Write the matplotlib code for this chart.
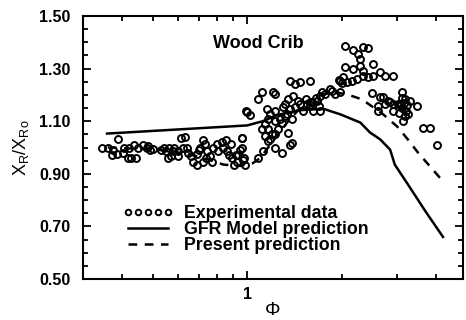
import matplotlib.pyplot as plt
from matplotlib.ticker import FixedLocator, NullFormatter, FixedFormatter

plt.rcParams['font.family'] = ['Liberation Sans', 'DejaVu Sans']
plt.rcParams['font.weight'] = 'bold'

# experimental points (phi, X/X0)
phi_exp = [0.388, 0.345, 0.361, 0.374, 0.371, 0.386, 0.403, 0.418, 0.428, 0.443,
           0.406, 0.421, 0.437, 0.450, 0.466, 0.478, 0.490, 0.484, 0.500, 0.530,
           0.545, 0.550, 0.560, 0.580,
           0.565, 0.585, 0.570, 0.600, 0.615, 0.635, 0.625, 0.645, 0.660, 0.670,
           0.690, 0.710, 0.725, 0.735, 0.745, 0.760, 0.770, 0.725, 0.780, 0.800,
           0.810, 0.830, 0.855, 0.840, 0.865, 0.890, 0.875, 0.895, 0.920, 0.930,
           0.910, 0.960, 0.965, 0.980, 0.600, 0.650, 0.690, 0.700, 0.740,
           1.371, 1.422, 1.475, 1.587, 1.116, 1.084, 1.210, 1.158, 1.000, 1.020,
           0.990, 1.350, 1.320, 1.371, 1.400, 1.450, 1.553, 1.587, 1.320, 1.390,
           1.290, 1.228, 1.255, 1.350, 1.166, 1.140, 1.166, 1.200, 0.964, 1.390,
           1.228, 1.124, 0.950, 0.936, 0.971, 0.985, 1.290, 1.084, 1.370, 1.228,
           1.180, 1.228, 1.270, 1.300, 1.340, 1.420, 1.475, 1.510, 1.540, 1.140,
           1.180, 1.116, 1.166, 1.228,
           1.610, 1.650, 1.690, 1.710, 1.730, 1.770, 1.840, 1.865, 1.900, 1.980,
           1.700, 1.620, 1.670, 1.580,
           2.050, 2.175, 2.255, 2.340, 2.430, 2.290, 2.050, 2.175, 2.290, 2.340,
           2.520, 2.020, 1.977, 2.080, 2.160, 2.240, 2.340, 2.430, 2.520, 2.650,
           2.750, 2.920, 2.500, 2.650, 2.850, 3.070, 2.750, 2.600, 2.600, 1.960,
           2.000,
           2.710, 2.810, 2.920, 2.920, 3.100, 3.150, 3.120, 3.200, 3.050, 3.170,
           3.130, 3.080, 3.220, 3.100, 3.020, 3.180, 3.300, 3.480, 3.250, 3.630,
           3.830, 4.030]
ratio_exp = [1.031, 1.000, 1.000, 0.989, 0.973, 0.977, 0.981, 0.962, 0.962, 0.962,
             1.000, 1.000, 1.008, 1.000, 1.008, 1.000, 0.992, 1.004, 0.995, 0.990,
             1.000, 0.985, 0.962, 0.985,
             1.000, 1.000, 0.966, 0.966, 1.035, 1.040, 1.000, 1.000, 0.966, 0.945,
             0.935, 1.000, 1.030, 1.012, 0.985, 0.966, 0.945, 0.945, 1.000, 1.012,
             0.985, 1.020, 1.030, 1.000, 0.985, 1.012, 0.973, 0.962, 0.973, 0.945,
             0.935, 1.038, 1.000, 0.962, 0.985, 0.980, 0.975, 0.990, 0.960,
             1.252, 1.240, 1.248, 1.252, 1.210, 1.183, 1.210, 1.145, 1.134, 1.125,
             1.140, 1.183, 1.164, 1.145, 1.195, 1.176, 1.164, 1.172, 1.118, 1.107,
             1.095, 1.099, 1.069, 1.057, 1.069, 1.042, 1.023, 1.050, 1.038, 1.019,
             1.000, 0.985, 0.992, 0.973, 0.954, 0.935, 0.981, 0.962, 1.011, 1.202,
             1.126, 1.137, 1.107, 1.153, 1.126, 1.153, 1.164, 1.137, 1.183, 1.088,
             1.031, 1.069, 1.107, 1.050,
             1.172, 1.190, 1.156, 1.195, 1.210, 1.202, 1.221, 1.214, 1.202, 1.210,
             1.137, 1.140, 1.175, 1.160,
             1.385, 1.370, 1.355, 1.382, 1.378, 1.336, 1.305, 1.298, 1.309, 1.290,
             1.317, 1.267, 1.252, 1.250, 1.252, 1.260, 1.271, 1.267, 1.271, 1.286,
             1.271, 1.271, 1.206, 1.191, 1.172, 1.164, 1.164, 1.156, 1.137, 1.255,
             1.245,
             1.191, 1.176, 1.137, 1.164, 1.190, 1.170, 1.150, 1.140, 1.130, 1.120,
             1.100, 1.160, 1.160, 1.210, 1.164, 1.183, 1.176, 1.156, 1.126, 1.076,
             1.076, 1.011]

# GFR model prediction (solid)
phi_gfr = [0.358, 1.0, 1.12, 1.25, 1.47, 1.75, 1.98, 2.29, 2.46, 2.65, 2.85,
           2.95, 3.3, 3.7, 4.2]
ratio_gfr = [1.053, 1.084, 1.10, 1.124, 1.142, 1.147, 1.126, 1.095, 1.057, 1.031,
             0.992, 0.935, 0.847, 0.756, 0.66]

# present prediction (dashed)
phi_pres = [0.36, 0.45, 0.54, 0.65, 0.75, 0.84, 0.95, 1.04, 1.1, 1.2, 1.35, 1.5,
            1.7, 1.9, 2.08, 2.32, 2.71, 3.0, 3.25, 3.5, 4.21]
ratio_pres = [1.0, 0.995, 0.99, 0.975, 0.955, 0.935, 0.93, 0.94, 0.96, 1.02, 1.10,
              1.16, 1.20, 1.21, 1.202, 1.183, 1.126, 1.08, 1.03, 0.98, 0.87]

fig = plt.figure(figsize=(4.66, 3.2), dpi=100)
ax = fig.add_axes([0.178, 0.128, 0.816, 0.822])

ax.plot(phi_exp, ratio_exp, ls='none', marker='o', ms=5, mfc='none', mec='black',
        mew=1.4, label='Experimental data')
ax.plot(phi_gfr, ratio_gfr, color='black', lw=1.8, label='GFR Model prediction')
ax.plot(phi_pres, ratio_pres, color='black', lw=1.8, ls=(0, (3.5, 3)),
        label='Present prediction')

ax.set_xscale('log')
ax.set_xlim(0.3, 4.87)
ax.set_ylim(0.5, 1.5)

ax.xaxis.set_major_locator(FixedLocator([1]))
ax.xaxis.set_major_formatter(FixedFormatter(['1']))
ax.xaxis.set_minor_locator(FixedLocator([0.4, 0.5, 0.6, 0.7, 0.8, 0.9, 2, 3, 4]))
ax.xaxis.set_minor_formatter(NullFormatter())
ax.set_yticks([0.5, 0.7, 0.9, 1.1, 1.3, 1.5])
ax.set_yticklabels(['0.50', '0.70', '0.90', '1.10', '1.30', '1.50'])
ax.set_yticks([0.55, 0.6, 0.65, 0.75, 0.8, 0.85, 0.95, 1.0, 1.05, 1.15, 1.2,
               1.25, 1.35, 1.4, 1.45], minor=True)
ax.tick_params(which='both', direction='in', top=True, right=True,
               labelsize=11.5, width=1.3)
ax.tick_params(which='major', length=6)
ax.tick_params(axis='y', which='major', pad=9)
ax.tick_params(axis='x', which='major', pad=6)
ax.tick_params(which='minor', length=3.5)
for s in ax.spines.values():
    s.set_linewidth(1.5)

ax.set_xlabel('Φ', fontsize=14, labelpad=0)
ax.set_ylabel('X$_\\mathregular{R}$/X$_\\mathregular{Ro}$', fontsize=13, labelpad=6)

ax.text(0.46, 0.894, 'Wood Crib', transform=ax.transAxes, ha='center',
        va='center', fontsize=13)

ax.legend(loc='lower left', bbox_to_anchor=(0.08, 0.06), frameon=False,
          numpoints=5, handlelength=2.9, handletextpad=0.6, labelspacing=-0.05,
          borderpad=0, fontsize=12.8, markerscale=0.8)

fig.savefig('out.png', dpi=100)
